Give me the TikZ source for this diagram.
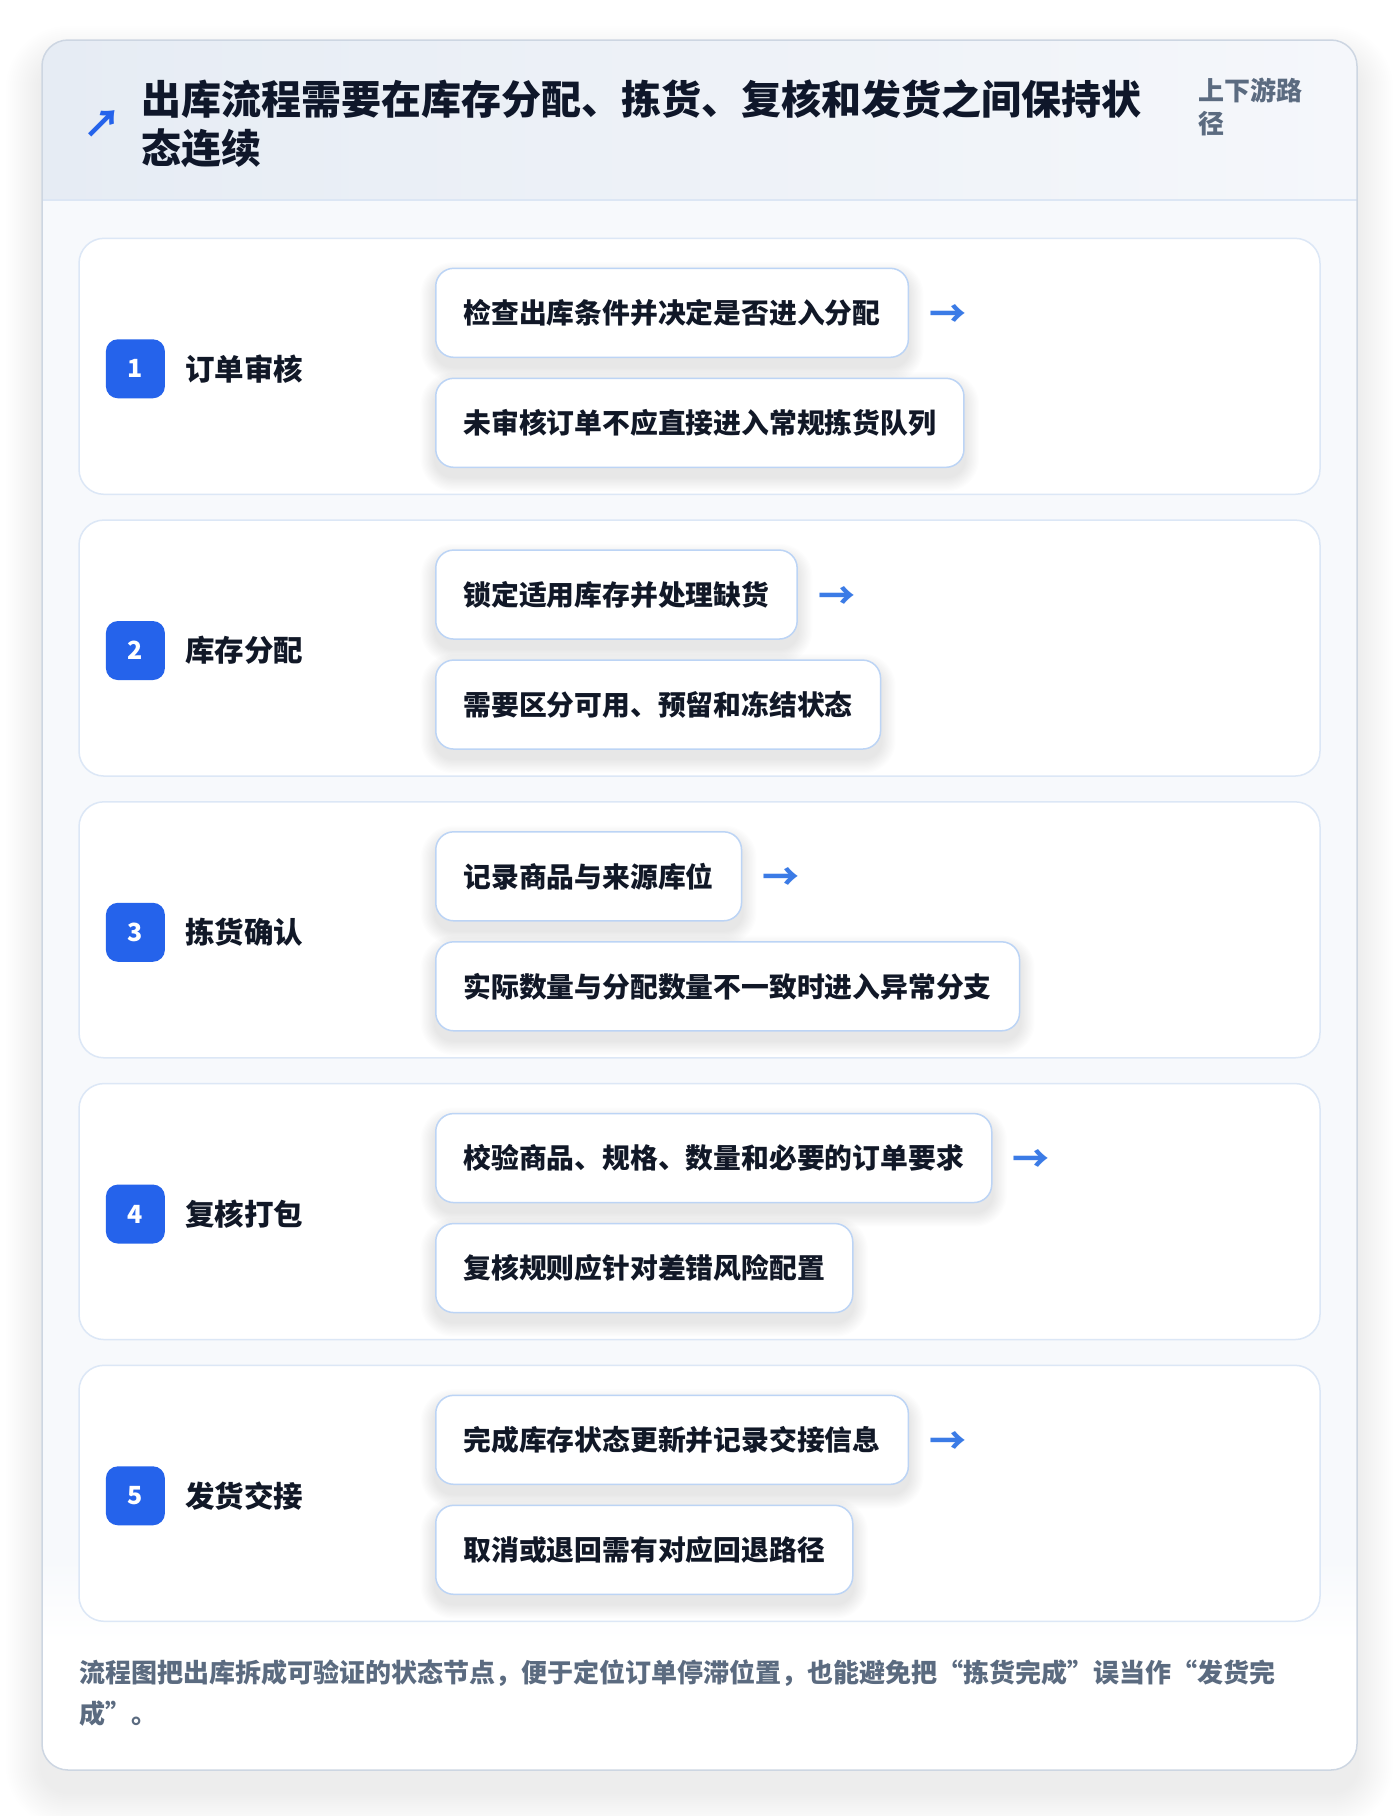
\documentclass[tikz,border=0pt]{standalone}
\usepackage{fontspec}
\setmainfont{Noto Sans CJK SC}
\definecolor{titlec}{HTML}{0F172A}
\definecolor{tagc}{HTML}{5B6B80}
\definecolor{badgec}{HTML}{2563EB}
\definecolor{arrc}{HTML}{3B7BE6}
\definecolor{iconc}{HTML}{2563EB}
\definecolor{panelb}{HTML}{DCE7F6}
\definecolor{subb}{HTML}{BCD4F5}
\definecolor{bodybg}{HTML}{F7F9FC}
\definecolor{hdrL}{HTML}{E6ECF4}
\definecolor{hdrR}{HTML}{F5F7FB}
\definecolor{hdrline}{HTML}{DCE6F4}
\definecolor{cardb}{HTML}{CDD6E2}
\definecolor{textc}{HTML}{111827}
\pgfdeclarelayer{cardlayer}
\pgfdeclarelayer{panellayer}
\pgfdeclarelayer{shadowlayer}
\pgfsetlayers{cardlayer,panellayer,shadowlayer,main}
\begin{document}
\begin{tikzpicture}[x=1pt,y=-1pt,
  panel/.style={draw=panelb, line width=1.5pt, fill=white, rounded corners=25pt,
    minimum width=1241pt, minimum height=256pt, inner sep=0pt},
  badge/.style={fill=badgec, rounded corners=12pt, minimum size=59pt, inner sep=0pt,
    text=white, font=\fontsize{25}{25}\selectfont\bfseries},
  lbl/.style={anchor=west, inner sep=0pt, text=textc, font=\fontsize{29.5}{29.5}\selectfont\bfseries},
  sub/.style={anchor=west, draw=subb, line width=1.5pt, fill=white, rounded corners=18pt,
    minimum height=89pt, inner xsep=27.8pt, inner ysep=0pt, text=textc,
    font=\fontsize{27.8}{27.8}\selectfont\bfseries},
  arr/.style={anchor=west, inner sep=0pt, text=arrc, font=\fontsize{37}{37}\selectfont\bfseries},
  shd/.style={fill=black, opacity=0.008}
]
\useasboundingbox (0,0) rectangle (1400,1816);
\begin{pgfonlayer}{cardlayer}
\fill[white] (0,0) rectangle (1400,1816);
% card shadow
\foreach \k in {1,...,18}{
  \fill[black, opacity=0.0035, rounded corners=26pt+2*\k pt]
    (42-2*\k, 40-2*\k+22) rectangle (1357+2*\k, 1770+2*\k+22);
}
% card
\fill[bodybg, rounded corners=26pt] (42,40) rectangle (1357,1770);
\begin{scope}
  \clip[rounded corners=26pt] (42,40) rectangle (1357,1770);
  \shade[left color=hdrL, right color=hdrR] (42,40) rectangle (1357,200);
  \shade[top color=bodybg, bottom color=white] (42,1560) rectangle (1357,1640);
  \fill[white] (42,1640) rectangle (1357,1770);
\end{scope}
\draw[hdrline, line width=1.5pt] (42,200) -- (1357,200);
\draw[cardb, line width=1.5pt, rounded corners=26pt] (42,40) rectangle (1357,1770);
\end{pgfonlayer}
% header
\node (icon) [text=iconc, inner sep=0pt, font=\fontsize{38}{38}\selectfont\bfseries] at (102,124) {↗};
\node (title) [anchor=west, inner sep=0pt, align=left, text=titlec,
  font=\fontsize{40}{48.6}\selectfont\bfseries] at (141,123.8)
  {出库流程需要在库存分配、拣货、复核和发货之间保持状\\态连续};
\node (tag) [anchor=west, inner sep=0pt, align=left, text=tagc,
  font=\fontsize{26}{33}\selectfont\bfseries] at (1198,106.5) {上下游路\\径};
% steps
\foreach \i/\lab/\ta/\tb in {
  1/订单审核/检查出库条件并决定是否进入分配/未审核订单不应直接进入常规拣货队列,
  2/库存分配/锁定适用库存并处理缺货/需要区分可用、预留和冻结状态,
  3/拣货确认/记录商品与来源库位/实际数量与分配数量不一致时进入异常分支,
  4/复核打包/校验商品、规格、数量和必要的订单要求/复核规则应针对差错风险配置,
  5/发货交接/完成库存状态更新并记录交接信息/取消或退回需有对应回退路径}{
  \pgfmathsetmacro{\top}{238.3+(\i-1)*281.75}
  \begin{pgfonlayer}{panellayer}
  \node (p\i) [panel] at (699.5,\top+128) {};
  \end{pgfonlayer}
  \node (b\i) [badge] at (135.4,\top+130.5) {\i};
  \node (l\i) [lbl] at (185,\top+130.5) {\lab};
  \node (a\i) [sub] at (435,\top+74.5) {\ta};
  \node (c\i) [sub] at (435,\top+184.5) {\tb};
  \node (r\i) [arr] at ([xshift=20pt,yshift=-3pt]a\i.east) {→};
  \begin{pgfonlayer}{shadowlayer}
  \foreach \n in {a\i,c\i}{
    \foreach \k in {1,...,12}{
      \fill[shd, rounded corners=18pt+1.2*\k pt]
        ([xshift=-1.2*\k pt, yshift=-1.2*\k pt-9pt]\n.south west) rectangle
        ([xshift=1.2*\k pt, yshift=1.2*\k pt-9pt]\n.north east);
    }
  }
  \end{pgfonlayer}
}
% footer
\node (foot) [anchor=west, inner sep=0pt, align=left, text=tagc,
  font=\fontsize{26}{41}\selectfont\bfseries] at (79,1693.5)
  {流程图把出库拆成可验证的状态节点，便于定位订单停滞位置，也能避免把“拣货完成”误当作“发货完\\成”。};
\end{tikzpicture}
\end{document}
